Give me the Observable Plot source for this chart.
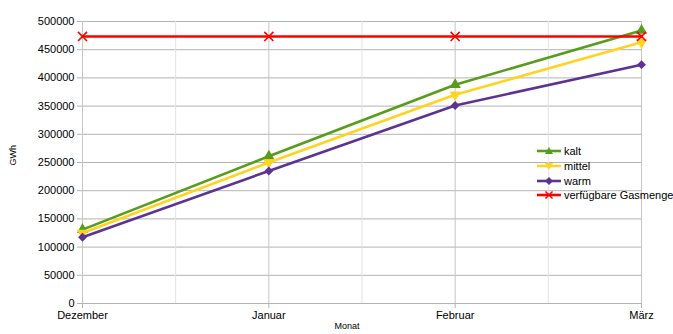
<!DOCTYPE html>
<html>
<head>
<meta charset="utf-8">
<script src="https://cdn.jsdelivr.net/npm/d3@7"></script>
<script src="https://cdn.jsdelivr.net/npm/@observablehq/plot@0.6"></script>
<style>
  html, body { margin: 0; padding: 0; background: #fff; }
  #wrap { position: relative; width: 673px; height: 334px; font-family: "Liberation Sans", Arial, sans-serif; }
  #legend { position: absolute; left: 537px; top: 144px; font-size: 11px; color: #000; }
  #legend .row { display: flex; align-items: center; height: 14.7px; white-space: nowrap; }
  #legend svg { margin-right: 3px; }
</style>
</head>
<body>
<div id="wrap"></div>
<script>
// Monthly cumulative gas demand (GWh) by winter scenario vs. available gas
const months = ["Dezember", "Januar", "Februar", "März"];
const kalt = [131000, 261000, 388000, 484000];
const mittel = [125000, 250000, 370000, 463000];
const warm = [117500, 235000, 351000, 423500];
const verfuegbar = [473500, 473500, 473500, 473500];
const yTicks = [0, 50000, 100000, 150000, 200000, 250000, 300000, 350000, 400000, 450000, 500000];

const series = [
  {name: "kalt", values: kalt, color: "#579d1c", symbol: "triangle", rotate: 0, r: 4.2},
  {name: "mittel", values: mittel, color: "#ffd320", symbol: "triangle", rotate: 180, r: 4.2},
  {name: "warm", values: warm, color: "#5c3292", symbol: "diamond2", rotate: 0, r: 4},
  {name: "verfügbare Gasmenge", values: verfuegbar, color: "#ff0000", symbol: "times", rotate: 0, r: 4.2}
];

const rows = series.flatMap(s => s.values.map((v, i) => ({series: s.name, i, v})));

const marks = [
  Plot.ruleY(yTicks, {stroke: "#b3b3b3", strokeWidth: 1}),
  Plot.ruleX([0.5, 1.5, 2.5], {stroke: "#e3e3e3", strokeWidth: 1}),
  Plot.ruleX([0, 1, 2, 3], {stroke: "#c6c6c6", strokeWidth: 1}),
  Plot.axisY({ticks: yTicks, tickSize: 5, tickPadding: 3, tickFormat: d => String(d), label: null, stroke: "#b3b3b3"}),
  Plot.axisX({ticks: [0, 1, 2, 3], tickSize: 5, tickPadding: 3, tickFormat: i => months[i], label: null, stroke: "#b3b3b3"}),
  Plot.text(["GWh"], {frameAnchor: "left", dx: -69, dy: 3, rotate: -90, fontSize: 9}),
  Plot.text(["Monat"], {frameAnchor: "bottom", dx: -15, dy: 25, fontSize: 9})
];

for (const s of series) {
  const data = rows.filter(d => d.series === s.name);
  marks.push(Plot.line(data, {x: "i", y: "v", stroke: s.color, strokeWidth: 2.6}));
  if (s.symbol === "times") {
    marks.push(Plot.dot(data, {x: "i", y: "v", symbol: "times", r: s.r, stroke: s.color, strokeWidth: 1.6}));
  } else {
    marks.push(Plot.dot(data, {x: "i", y: "v", symbol: s.symbol, r: s.r, fill: s.color, stroke: "none", rotate: s.rotate}));
  }
}

const chart = Plot.plot({
  width: 673,
  height: 334,
  marginLeft: 82,
  marginRight: 32,
  marginTop: 21,
  marginBottom: 31,
  style: {fontFamily: "Liberation Sans, Arial, sans-serif", fontSize: "11px", color: "#000", background: "#fff"},
  x: {type: "linear", domain: [0, 3]},
  y: {domain: [0, 500000]},
  marks
});

const wrap = document.getElementById("wrap");
wrap.appendChild(chart);

// Legend
const legend = document.createElement("div");
legend.id = "legend";
const sym = {
  triangle: (c, rot) => `<path d="M0,-4L4,3L-4,3Z" fill="${c}" transform="rotate(${rot})"/>`,
  diamond2: c => `<path d="M0,-4L4,0L0,4L-4,0Z" fill="${c}"/>`,
  times: c => `<path d="M-3.5,-3.5L3.5,3.5M-3.5,3.5L3.5,-3.5" stroke="${c}" stroke-width="1.5"/>`
};
for (const s of series) {
  const row = document.createElement("div");
  row.className = "row";
  row.innerHTML = `<svg width="24" height="10" viewBox="-12 -5 24 10"><line x1="-12" x2="12" y1="0" y2="0" stroke="${s.color}" stroke-width="2.6"/>${sym[s.symbol](s.color, s.rotate)}</svg><span>${s.name}</span>`;
  legend.appendChild(row);
}
wrap.appendChild(legend);
</script>
</body>
</html>
